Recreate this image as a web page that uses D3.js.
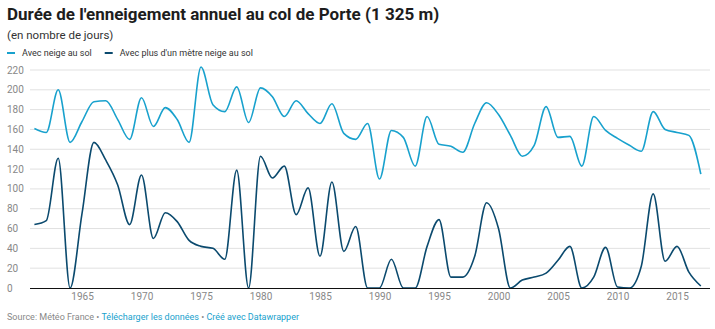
<!DOCTYPE html>
<html><head><meta charset="utf-8">
<script src="https://cdn.jsdelivr.net/npm/d3@7"></script>
<style>
body{margin:0;background:#fff;font-family:Roboto,"Noto Sans",sans-serif;}
svg text{font-family:Roboto,"Noto Sans",sans-serif;}
</style></head><body>
<svg id="c" width="715" height="329"></svg>
<script>
const years = d3.range(1961, 2018);
const neigeSol = [161,157,200,147,168,188,189,170,150,192,163,182,170,147,223,185,178,203,167,
  202,193,173,189,176,166,186,156,150,166,110,159,152,123,173,145,143,137,166,187,
  175,154,133,144,183,152,153,123,173,159,151,144,138,178,160,157,154,115];
const neigeMetre = [64,68,131,0,75,147,129,104,64,114,50,76,67,48,42,40,29,119,0,
  133,111,123,74,101,32,107,37,62,0,0,29,0,0,42,69,11,11,32,86,
  60,0,8,11,15,28,42,0,11,41,1,0,22,95,27,42,16,2];
const yTicks = [0,20,40,60,80,100,120,140,160,180,200,220];
const xTicks = [1965,1970,1975,1980,1985,1990,1995,2000,2005,2010,2015];
const seriesNames = ["Avec neige au sol","Avec plus d'un mètre neige au sol"];
const colors = ["#18a1cd","#0b4a6e"];

const svg = d3.select("#c");
svg.append("text").attr("x",7).attr("y",20).attr("font-size",17).attr("font-weight",700)
  .attr("fill","#1d1d1d").text("Durée de l'enneigement annuel au col de Porte (1 325 m)");
svg.append("text").attr("x",7).attr("y",39).attr("font-size",11.5).attr("fill","#333")
  .text("(en nombre de jours)");

// legend
const leg = svg.append("g").attr("transform","translate(7,56)");
let lx = 0;
seriesNames.forEach((n,i)=>{
  leg.append("line").attr("x1",lx).attr("x2",lx+8).attr("y1",-3).attr("y2",-3)
    .attr("stroke",colors[i]).attr("stroke-width",2);
  const t = leg.append("text").attr("x",lx+15).attr("y",0).attr("font-size",9).attr("fill","#333").text(n);
  lx += 15 + t.node().getComputedTextLength() + 13;
});

const x = d3.scaleLinear().domain([1965,2015]).range([82,677]);
const y = d3.scaleLinear().domain([0,220]).range([288,70]);
const left = 30, right = 710;

const g = svg.append("g");
yTicks.forEach(v=>{
  if(v>0) g.append("line").attr("x1",left).attr("x2",right).attr("y1",y(v)).attr("y2",y(v))
    .attr("stroke","#e1e1e1").attr("stroke-width",1);
  g.append("text").attr("x",7).attr("y",y(v)+3.5).attr("font-size",10).attr("fill","#888").text(v);
});
const xa = g.append("g").attr("transform","translate(0,288)")
  .call(d3.axisBottom(x).tickValues(xTicks).tickFormat(d3.format("d")).tickSize(0).tickPadding(5));
xa.select(".domain").remove();
xa.selectAll("text").attr("font-size",10).attr("fill","#888").attr("font-family","Roboto");

const line = d3.line().x((d,i)=>x(years[i])).y(d=>y(d)).curve(d3.curveMonotoneX);
[neigeSol, neigeMetre].forEach((s,i)=>{
  g.append("path").attr("d",line(s)).attr("fill","none").attr("stroke",colors[i])
    .attr("stroke-width",1.6).attr("stroke-linejoin","round");
});
g.append("line").attr("x1",left).attr("x2",right).attr("y1",288.5).attr("y2",288.5)
  .attr("stroke","#111").attr("stroke-width",1);

const f = svg.append("text").attr("x",7).attr("y",320).attr("font-size",9);
f.append("tspan").attr("fill","#888").text("Source: Météo France • ");
f.append("tspan").attr("fill","#18a1cd").text("Télécharger les données");
f.append("tspan").attr("fill","#888").text(" • ");
f.append("tspan").attr("fill","#18a1cd").text("Créé avec Datawrapper");
</script></body></html>
